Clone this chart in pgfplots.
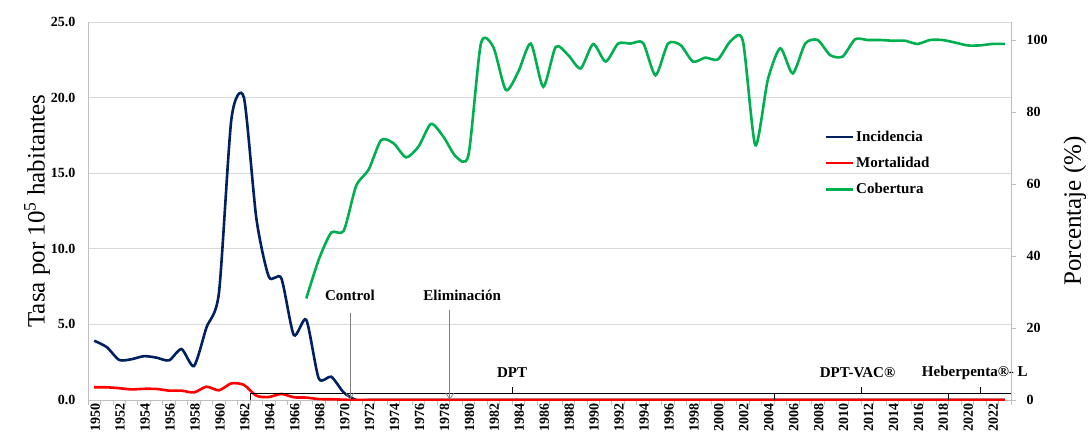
\documentclass[border=0pt]{standalone}
\usepackage{fontspec}
\setmainfont{Liberation Serif}
\usepackage{pgfplots}
\usepackage{pgfplotstable}
\pgfplotsset{compat=1.18}
\usetikzlibrary{arrows.meta}

\definecolor{incid}{HTML}{002060}
\definecolor{mort}{HTML}{FF0000}
\definecolor{cober}{HTML}{00B050}
\definecolor{gridgray}{HTML}{D9D9D9}
\definecolor{axgray}{HTML}{BFBFBF}

\newcommand\tickfont{\fontsize{14bp}{16bp}\selectfont\bfseries}
\newcommand\legfont{\fontsize{15bp}{17bp}\selectfont\bfseries}
\newcommand\annfont{\fontsize{15bp}{17bp}\selectfont\bfseries}
\newcommand\labfont{\fontsize{25bp}{28bp}\selectfont}

% tasas por 10^5 habitantes
\pgfplotstableread{
year inc mor
1950 3.92 0.84
1951 3.50 0.84
1952 2.65 0.78
1953 2.70 0.70
1954 2.90 0.74
1955 2.80 0.73
1956 2.62 0.62
1957 3.37 0.62
1958 2.25 0.50
1959 4.80 0.88
1960 7.10 0.64
1961 18.6 1.10
1962 20.0 1.00
1963 12.0 0.28
1964 8.15 0.20
1965 8.05 0.40
1966 4.30 0.18
1967 5.30 0.16
1968 1.43 0.06
1969 1.54 0.05
1970 0.50 0.02
1971 0 0
1972 0 0
1973 0 0
1974 0 0
1975 0 0
1976 0 0
1977 0 0
1978 0 0
1979 0 0
1980 0 0
1981 0 0
1982 0 0
1983 0 0
1984 0 0
1985 0 0
1986 0 0
1987 0 0
1988 0 0
1989 0 0
1990 0 0
1991 0 0
1992 0 0
1993 0 0
1994 0 0
1995 0 0
1996 0 0
1997 0 0
1998 0 0
1999 0 0
2000 0 0
2001 0 0
2002 0 0
2003 0 0
2004 0 0
2005 0 0
2006 0 0
2007 0 0
2008 0 0
2009 0 0
2010 0 0
2011 0 0
2012 0 0
2013 0 0
2014 0 0
2015 0 0
2016 0 0
2017 0 0
2018 0 0
2019 0 0
2020 0 0
2021 0 0
2022 0 0
2023 0 0
}\tasas

% cobertura de vacunacion (%)
\pgfplotstableread{
year cob
1967 28.2
1968 39.0
1969 46.5
1970 47.0
1971 59.5
1972 64.0
1973 72.2
1974 71.3
1975 67.4
1976 70.4
1977 76.7
1978 73.1
1979 67.6
1980 68.0
1981 99.0
1982 98.0
1983 86.1
1984 91.2
1985 99.0
1986 87.0
1987 98.1
1988 95.8
1989 92.1
1990 98.9
1991 94.0
1992 99.0
1993 99.0
1994 99.2
1995 90.2
1996 99.0
1997 98.6
1998 94.0
1999 95.1
2000 94.6
2001 99.6
2002 99.8
2003 70.8
2004 88.9
2005 97.7
2006 90.7
2007 99.0
2008 100.0
2009 95.8
2010 95.4
2011 100.2
2012 100.0
2013 100.0
2014 99.8
2015 99.8
2016 98.9
2017 100.0
2018 100.0
2019 99.3
2020 98.5
2021 98.5
2022 98.9
2023 98.9
}\cobertura

\begin{document}
\begin{tikzpicture}
\pgfplotsset{
  base/.style={
    scale only axis, width=923bp, height=378bp,
    xmin=1949.5, xmax=2023.5,
    /pgf/number format/1000 sep={},
    /pgf/number format/assume math mode=true,
    clip mode=individual,
  },
  serie/.style={line width=2.6bp, smooth, tension=0.42},
}
\begin{axis}[base,
  ymin=0, ymax=25, ytick={0,5,...,25},
  ymajorgrids, grid style={gridgray, line width=0.8bp},
  axis line style={axgray, line width=0.8bp},
  axis x line*=bottom, axis y line*=left,
  ytick style={draw=none},
  yticklabel style={font=\tickfont, xshift=-4bp,
    /pgf/number format/.cd, fixed, fixed zerofill, precision=1},
  xtick={1949.5,1950.5,...,2023.5}, xticklabels={},
  xtick style={axgray, line width=0.8bp},
  major tick length=5bp, tick align=outside,
  extra x ticks={1950,1952,...,2022},
  extra x tick style={major tick length=0pt},
  xticklabel style={rotate=90, anchor=east, font=\tickfont, yshift=-1bp},
  ylabel={Tasa por 10\textsuperscript{5} habitantes},
  ylabel style={at={(axis description cs:-0.0553,0.5)}, anchor=center, font=\labfont},
]
\addplot[incid, serie] table[x=year, y=inc] {\tasas};
\addplot[mort, serie] table[x=year, y=mor] {\tasas};

% periodos de vacunacion
\draw[black, line width=0.6bp]
  (axis cs:1962.5,0) -- (axis cs:1962.5,0.43) -- (axis cs:2023.5,0.43) -- (axis cs:2023.5,0);
\draw[black, line width=0.6bp] (axis cs:2004.5,0) -- (axis cs:2004.5,0.43);
\draw[black, line width=0.6bp] (axis cs:2018.5,0) -- (axis cs:2018.5,0.43);
\draw[black, line width=0.6bp] (axis cs:1983.5,0.43) -- (axis cs:1983.5,0.86);
\draw[black, line width=0.6bp] (axis cs:2011.5,0.43) -- (axis cs:2011.5,0.86);
\draw[black, line width=0.6bp] (axis cs:2021,0.43) -- (axis cs:2021,0.86);
\node[font=\annfont] at (axis cs:1983.5,1.79) {DPT};
\node[font=\annfont] at (axis cs:2011.2,1.79) {DPT-VAC®};
\node[font=\annfont] at (axis cs:2020.6,1.79) {Heberpenta®- L};

% etapas
\node[font=\annfont] at (axis cs:1970.5,6.94) {Control};
\draw[gray, line width=0.7bp, -{Straight Barb[length=6bp, width=8bp]}]
  (axis cs:1970.5,5.75) -- (axis cs:1970.5,0.02);
\node[font=\annfont] at (axis cs:1979.5,6.94) {Eliminación};
\draw[gray, line width=0.7bp, -{Straight Barb[length=6bp, width=8bp]}]
  (axis cs:1978.5,5.95) -- (axis cs:1978.5,0.02);
\end{axis}

\begin{axis}[base,
  ymin=0, ymax=105, ytick={0,20,...,100},
  axis x line=none, axis y line*=right,
  axis line style={axgray, line width=0.8bp},
  ytick style={axgray, line width=0.8bp},
  major tick length=5bp, tick align=outside,
  yticklabel style={font=\tickfont},
  yticklabel shift=7bp,
  ylabel={Porcentaje (\%)},
  ylabel style={at={(axis description cs:1.0693,0.5)}, anchor=center, font=\labfont},
  legend style={at={(axis description cs:0.795,0.7235)}, anchor=north west,
    draw=none, fill=none, font=\legfont, row sep=10.5bp},
  legend cell align=left,
  legend image code/.code={\draw[#1, line width=2.2bp] (0bp,0bp) -- (27bp,0bp);},
]
\addlegendimage{incid}\addlegendentry{Incidencia}
\addlegendimage{mort}\addlegendentry{Mortalidad}
\addplot[cober, serie] table[x=year, y=cob] {\cobertura};
\addlegendentry{Cobertura}
\end{axis}

\pgfresetboundingbox
\path[use as bounding box] (-88bp,-41bp) rectangle (1004bp,400bp);
\end{tikzpicture}
\end{document}
